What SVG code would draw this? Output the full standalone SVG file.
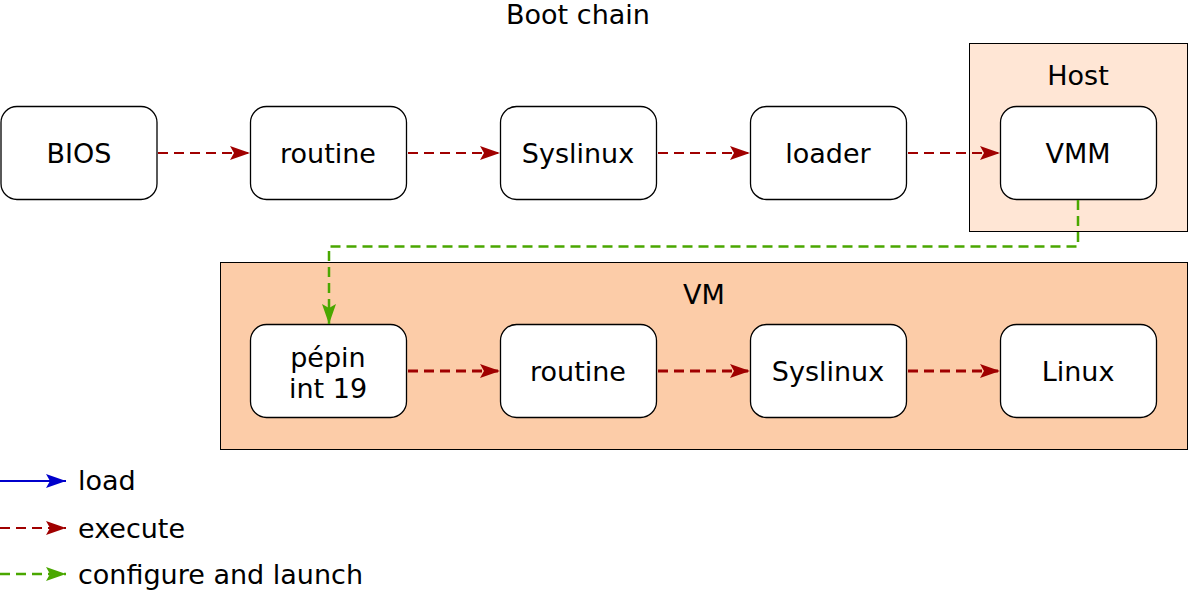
<svg xmlns="http://www.w3.org/2000/svg" width="1189" height="592" viewBox="0 0 1189 592">
<style>
text{font-family:"DejaVu Sans",sans-serif;font-size:27px;fill:#000;text-anchor:middle}
.n{fill:#fff;stroke:#000;stroke-width:1.3}
.ex{stroke:#a00000;stroke-width:2;stroke-dasharray:10,6;fill:none}
.ex3{stroke:#a00000;stroke-width:3;stroke-dasharray:10,6;fill:none}
.cf{stroke:#4aa700;stroke-width:2.5;stroke-dasharray:10,6;fill:none}
</style>
<defs>
<marker id="mr" markerWidth="20" markerHeight="14" refX="20" refY="7" orient="auto" markerUnits="userSpaceOnUse"><path d="M0,0L20,7L0,14L4,7z" fill="#a00000"/></marker>
<marker id="mg" markerWidth="20" markerHeight="14" refX="20" refY="7" orient="auto" markerUnits="userSpaceOnUse"><path d="M0,0L20,7L0,14L4,7z" fill="#4aa700"/></marker>
<marker id="mb" markerWidth="20" markerHeight="14" refX="20" refY="7" orient="auto" markerUnits="userSpaceOnUse"><path d="M0,0L20,7L0,14L4,7z" fill="#0000cc"/></marker>
</defs>
<rect width="1189" height="592" fill="#fff"/>
<text x="578" y="24">Boot chain</text>
<g id="host"><rect x="969.5" y="43.5" width="218" height="188" fill="#ffe6d5" stroke="#000"/><text x="1078" y="85">Host</text></g>
<g id="vm"><rect x="220.5" y="262.5" width="967" height="187" fill="#fccca8" stroke="#000"/><text x="704" y="304">VM</text></g>
<g id="bios"><rect class="n" x="1" y="106.5" width="156" height="93" rx="16"/><text x="79" y="163">BIOS</text></g>
<g id="routine1"><rect class="n" x="250.5" y="106.5" width="156" height="93" rx="16"/><text x="328" y="163">routine</text></g>
<g id="syslinux1"><rect class="n" x="500.5" y="106.5" width="156" height="93" rx="16"/><text x="578" y="163">Syslinux</text></g>
<g id="loader"><rect class="n" x="750.5" y="106.5" width="156" height="93" rx="16"/><text x="828" y="163">loader</text></g>
<g id="vmm"><rect class="n" x="1000.5" y="106.5" width="156" height="93" rx="16"/><text x="1078" y="163">VMM</text></g>
<g id="pepin"><rect class="n" x="250.5" y="324.5" width="156" height="93" rx="16"/><text x="328" y="367">pépin</text><text x="328" y="398">int 19</text></g>
<g id="routine2"><rect class="n" x="500.5" y="324.5" width="156" height="93" rx="16"/><text x="578" y="381">routine</text></g>
<g id="syslinux2"><rect class="n" x="750.5" y="324.5" width="156" height="93" rx="16"/><text x="828" y="381">Syslinux</text></g>
<g id="linux"><rect class="n" x="1000.5" y="324.5" width="156" height="93" rx="16"/><text x="1078" y="381">Linux</text></g>
<g id="connectors">
<path class="ex" d="M158,153H250" marker-end="url(#mr)"/>
<path class="ex" d="M408,153H500" marker-end="url(#mr)"/>
<path class="ex" d="M658,153H750" marker-end="url(#mr)"/>
<path class="ex" d="M908,153H1000" marker-end="url(#mr)"/>
<path class="cf" d="M1078,200V246.5H329V324" marker-end="url(#mg)"/>
<path class="ex3" d="M408,371H500" marker-end="url(#mr)"/>
<path class="ex3" d="M658,371H750" marker-end="url(#mr)"/>
<path class="ex3" d="M908,371H1000" marker-end="url(#mr)"/>
</g>
<g id="legend">
<path d="M0,481H66" stroke="#0000cc" stroke-width="2" marker-end="url(#mb)"/>
<text x="78" y="490" style="text-anchor:start">load</text>
<path class="ex" d="M0,528H66" marker-end="url(#mr)"/>
<text x="78" y="538" style="text-anchor:start">execute</text>
<path class="cf" d="M0,574H66" marker-end="url(#mg)"/>
<text x="78" y="584" style="text-anchor:start">configure and launch</text>
</g>
</svg>
